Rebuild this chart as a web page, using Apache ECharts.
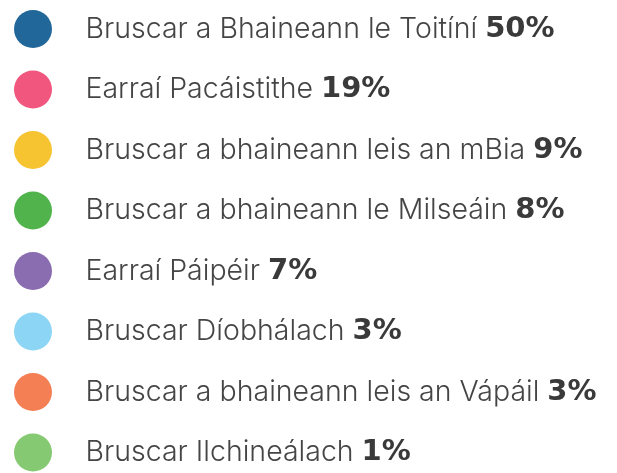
<!DOCTYPE html>
<html><head><meta charset="utf-8">
<script src="https://cdn.jsdelivr.net/npm/echarts@6/dist/echarts.min.js"></script>
<style>html,body{margin:0;padding:0;background:#fff}#c{width:617px;height:473px}</style>
</head><body><div id="c"></div>
<script>
const categories = [
  'Bruscar a Bhaineann le Toitíní',
  'Earraí Pacáistithe',
  'Bruscar a bhaineann leis an mBia',
  'Bruscar a bhaineann le Milseáin',
  'Earraí Páipéir',
  'Bruscar Díobhálach',
  'Bruscar a bhaineann leis an Vápáil',
  'Bruscar Ilchineálach'
];
const values = [50, 19, 9, 8, 7, 3, 3, 1];
const colors = ['#21679a', '#f1567f', '#f6c331', '#50b34b', '#8a6cb0', '#8dd5f4', '#f47f55', '#86c973'];

const valueByName = {};
categories.forEach((c, i) => valueByName[c] = values[i]);

const chart = echarts.init(document.getElementById('c'), null, {renderer: 'canvas'});
chart.setOption({
  animation: false,
  color: colors,
  legend: {
    orient: 'vertical',
    left: 14,
    top: 10,
    padding: 0,
    itemWidth: 39,
    itemHeight: 38,
    itemGap: 22.5,
    icon: 'path://M0,50 A50,50 0 1 1 100,50 A50,50 0 1 1 0,50 Z',
    selectedMode: false,
    formatter: name => '{n|' + name + ' }{v|' + valueByName[name] + '%}',
    textStyle: {
      rich: {
        n: {fontFamily: 'Inter', fontSize: 28.5, fontWeight: 300, color: '#454545', padding: [0, 0, 0, 28]},
        v: {fontFamily: 'DejaVu Sans', fontSize: 29, fontWeight: 'bold', color: '#3a3a3a'}
      }
    }
  },
  series: [{
    type: 'pie',
    radius: [0, 0],
    center: ['150%', '50%'],
    silent: true,
    label: {show: false},
    labelLine: {show: false},
    data: categories.map((c, i) => ({name: c, value: values[i]}))
  }]
});
</script></body></html>
